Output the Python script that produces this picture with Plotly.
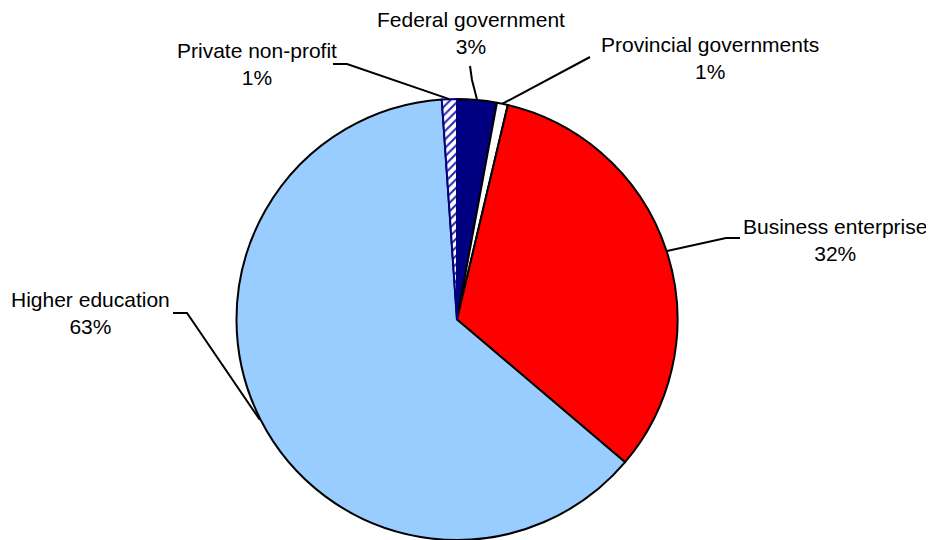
import math
import plotly.graph_objects as go

# ---- data ----
sectors = ["Federal government", "Provincial governments", "Business enterprise",
           "Higher education", "Private non-profit"]
shares = [2.9, 0.8, 32.5, 62.7, 1.1]
pct_labels = ["3%", "1%", "32%", "63%", "1%"]

# ---- style ----
colors = ["#000080", "#FFFFFF", "#FF0000", "#99CCFF", "#FFFFFF"]
patterns = ["", "", "", "", "/"]
line_colors = ["black", "black", "black", "black", "#000080"]
OFF = 8                      # page body margin
W, H = 934 - OFF, 540 - OFF
CX, CY, R = 457 - OFF, 320 - OFF, 221
FONT = "Liberation Sans, Arial, sans-serif"

# label placement (screen pixel layout): text centre, elbow point, line end
label_layout = {
    "Federal government": dict(tx=471, ty=33, pts=[(472, 80), (470, 66)]),
    "Provincial governments": dict(tx=710, ty=58, pts=[(590, 57)]),
    "Business enterprise": dict(tx=835, ty=240, pts=[(726, 238), (740, 238)]),
    "Higher education": dict(tx=90, ty=313, pts=[(187, 313), (173, 313)]),
    "Private non-profit": dict(tx=257, ty=64, pts=[(347, 64), (333, 64)]),
}

fig = go.Figure()
fig.add_trace(go.Pie(
    labels=sectors, values=shares, sort=False, direction="clockwise", rotation=0,
    textinfo="none", hoverinfo="label+percent",
    marker=dict(colors=colors, line=dict(color=line_colors, width=2),
                pattern=dict(shape=patterns, fgcolor="#2B2BB0", size=6, solidity=0.35)),
    domain=dict(x=[(CX - R) / W, (CX + R) / W],
                y=[max(0, (H - CY - R) / H), (H - CY + R) / H]),
    showlegend=False,
))

# leader lines and labels computed from slice mid-angles
total = sum(shares)
cum = 0.0
for name, v, p in zip(sectors, shares, pct_labels):
    mid = (cum + v / 2) / total * 2 * math.pi
    cum += v
    sx, sy = CX + R * math.sin(mid), CY - R * math.cos(mid)
    lay = label_layout[name]
    pts = [(sx, sy)] + [(x - OFF, y - OFF) for x, y in lay["pts"]]
    path = "M {} {} ".format(pts[0][0], pts[0][1]) + " ".join(
        "L {} {}".format(x, y) for x, y in pts[1:])
    fig.add_shape(type="path", path=path, xref="x", yref="y",
                  line=dict(color="black", width=2))
    fig.add_annotation(x=lay["tx"] - OFF, y=lay["ty"] - OFF, xref="x", yref="y",
                       text=f"{name}<br>{p}", showarrow=False,
                       font=dict(family=FONT, size=21, color="black"),
                       align="center", xanchor="center", yanchor="middle")

fig.update_layout(
    width=W, height=H, margin=dict(l=0, r=0, t=0, b=0),
    paper_bgcolor="white", plot_bgcolor="rgba(0,0,0,0)",
    xaxis=dict(range=[0, W], visible=False, fixedrange=True),
    yaxis=dict(range=[H, 0], visible=False, fixedrange=True),
)
fig.write_html("out.html")
